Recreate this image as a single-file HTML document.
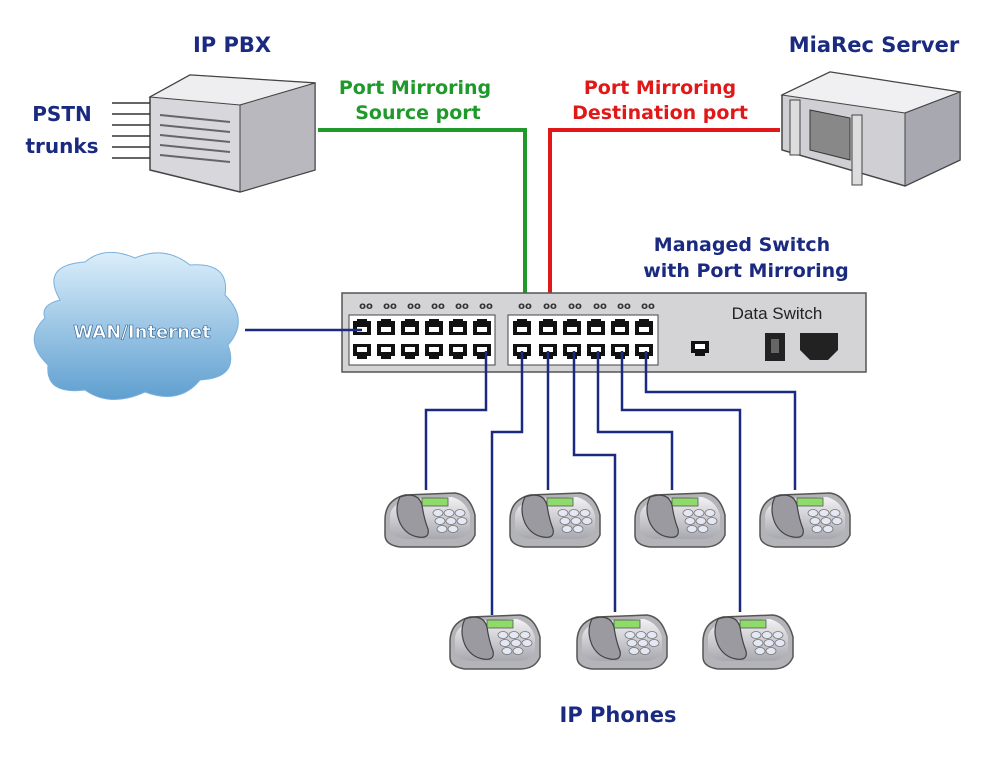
<!DOCTYPE html>
<html><head><style>
body{margin:0;background:#fff}
svg{display:block}
text{font-family:"DejaVu Sans","Liberation Sans",sans-serif;font-weight:bold}
</style></head><body>
<svg width="990" height="760" viewBox="0 0 990 760">
<defs>
<linearGradient id="cl" x1="0" y1="0" x2="0" y2="1"><stop offset="0" stop-color="#dbeefa"/><stop offset="1" stop-color="#5f9fd0"/></linearGradient>
<linearGradient id="gr" x1="0" y1="0" x2="0" y2="1"><stop offset="0" stop-color="#f2f2f4"/><stop offset="1" stop-color="#a8a8b0"/></linearGradient>
<g id="phone">
<path d="M-45,5 Q-45,-15 -25,-20 L25,-22 Q40,-20 45,0 L45,20 Q40,32 25,32 L-30,32 Q-45,30 -45,20Z" fill="#b4b4b8" stroke="#555" stroke-width="1.5"/>
<path d="M-40,0 Q-38,-12 -20,-16 L22,-18 Q36,-14 40,0 L40,14 Q36,24 22,24 L-25,24 Q-40,22 -40,12Z" fill="url(#gr)"/>
<rect x="-8" y="-17" width="26" height="8" fill="#8edb6a" stroke="#555" stroke-width="0.8"/>
<g fill="#e4e8f4" stroke="#777" stroke-width="0.8">
<ellipse cx="8" cy="-2" rx="5" ry="3.5"/><ellipse cx="19" cy="-2" rx="5" ry="3.5"/><ellipse cx="30" cy="-2" rx="5" ry="3.5"/>
<ellipse cx="10" cy="6" rx="5" ry="3.5"/><ellipse cx="21" cy="6" rx="5" ry="3.5"/><ellipse cx="32" cy="6" rx="5" ry="3.5"/>
<ellipse cx="12" cy="14" rx="5" ry="3.5"/><ellipse cx="23" cy="14" rx="5" ry="3.5"/></g>
<path d="M-30,-18 Q-12,-24 -8,-10 Q-6,4 -2,14 Q0,24 -12,22 Q-24,20 -30,8 Q-36,-6 -30,-18Z" fill="#9a9aa0" stroke="#444" stroke-width="1.2"/>
</g>
<g id="pt"><path d="M-9,-7 L-5,-7 L-5,-9 L5,-9 L5,-7 L9,-7 L9,7 L-9,7Z" fill="#111"/><rect x="-5" y="-1" width="10" height="5" fill="#fff"/></g>
<g id="pb"><path d="M-9,-7 L9,-7 L9,5 L5,5 L5,8 L-5,8 L-5,5 L-9,5Z" fill="#111"/><rect x="-5" y="-4" width="10" height="5" fill="#fff"/></g>
</defs>

<!-- PBX -->
<text x="232" y="52" font-size="21" fill="#1a2a80" text-anchor="middle">IP PBX</text>
<path d="M150,97 L190,75 L315,83 L315,170 L240,192 L150,170Z" fill="#d8d8dc" stroke="#444" stroke-width="1.5"/>
<path d="M150,97 L190,75 L315,83 L240,105Z" fill="#eeeef0" stroke="#444"/>
<path d="M240,105 L315,83 L315,170 L240,192Z" fill="#b8b8be" stroke="#444"/>
<g stroke="#666" stroke-width="2"><line x1="160" y1="115" x2="230" y2="122"/><line x1="160" y1="125" x2="230" y2="132"/><line x1="160" y1="135" x2="230" y2="142"/><line x1="160" y1="145" x2="230" y2="152"/><line x1="160" y1="155" x2="230" y2="162"/></g>
<g stroke="#333" stroke-width="1.5"><line x1="112" y1="103" x2="150" y2="103"/><line x1="112" y1="114" x2="150" y2="114"/><line x1="112" y1="125" x2="150" y2="125"/><line x1="112" y1="136" x2="150" y2="136"/><line x1="112" y1="147" x2="150" y2="147"/><line x1="112" y1="158" x2="150" y2="158"/></g>
<text x="62" y="121" font-size="20" fill="#1a2a80" text-anchor="middle">PSTN</text>
<text x="62" y="153" font-size="20" fill="#1a2a80" text-anchor="middle">trunks</text>

<!-- Server -->
<text x="874" y="52" font-size="21" fill="#1a2a80" text-anchor="middle">MiaRec Server</text>
<path d="M782,95 L830,72 L960,92 L960,160 L905,186 L782,150Z" fill="#cfcfd4" stroke="#444" stroke-width="1.5"/>
<path d="M782,95 L830,72 L960,92 L905,113Z" fill="#f0f0f2" stroke="#444"/>
<path d="M905,113 L960,92 L960,160 L905,186Z" fill="#a8a8b0" stroke="#444"/>
<path d="M810,110 L850,118 L850,160 L810,150Z" fill="#888" stroke="#333"/>
<rect x="790" y="100" width="10" height="55" fill="#ddd" stroke="#444"/>
<rect x="852" y="115" width="10" height="70" fill="#ddd" stroke="#444"/>

<!-- Labels -->
<text x="415" y="94" font-size="19" fill="#1f9a2a" text-anchor="middle">Port Mirroring</text>
<text x="418" y="119" font-size="19" fill="#1f9a2a" text-anchor="middle">Source port</text>
<text x="660" y="94" font-size="19" fill="#e01818" text-anchor="middle">Port Mirroring</text>
<text x="660" y="119" font-size="19" fill="#e01818" text-anchor="middle">Destination port</text>
<text x="742" y="251" font-size="19" fill="#1a2a80" text-anchor="middle">Managed Switch</text>
<text x="746" y="277" font-size="19" fill="#1a2a80" text-anchor="middle">with Port Mirroring</text>

<!-- mirror lines -->
<polyline points="318,130 525,130 525,325" fill="none" stroke="#1f9a2a" stroke-width="4"/>
<polyline points="780,130 550,130 550,325" fill="none" stroke="#e01818" stroke-width="4"/>

<!-- cloud -->
<path d="M60,300 Q40,265 85,262 Q105,245 135,258 Q165,245 190,265 Q230,262 225,295 Q250,320 228,345 Q240,378 200,380 Q180,405 145,392 Q110,408 85,390 Q45,395 48,365 Q22,340 45,318 Q40,305 60,300Z" fill="url(#cl)" stroke="#7ab0dc"/>
<text x="142" y="338" font-size="18" fill="#fff" text-anchor="middle" stroke="#2a5c90" stroke-width="0.6">WAN/Internet</text>

<!-- switch -->
<rect x="342" y="293" width="524" height="79" fill="#d4d4d6" stroke="#555" stroke-width="1.5"/>
<rect x="349" y="315" width="146" height="50" fill="#fff" stroke="#444"/>
<rect x="508" y="315" width="150" height="50" fill="#fff" stroke="#444"/>
<g font-size="10" fill="#333" text-anchor="middle" font-weight="bold">
<text x="366" y="309" style="font-family:'DejaVu Sans'">oo</text><text x="390" y="309">oo</text><text x="414" y="309">oo</text><text x="438" y="309">oo</text><text x="462" y="309">oo</text><text x="486" y="309">oo</text>
<text x="525" y="309">oo</text><text x="550" y="309">oo</text><text x="575" y="309">oo</text><text x="600" y="309">oo</text><text x="624" y="309">oo</text><text x="648" y="309">oo</text>
</g>
<g>
<use href="#pt" x="362" y="328"/><use href="#pt" x="386" y="328"/><use href="#pt" x="410" y="328"/><use href="#pt" x="434" y="328"/><use href="#pt" x="458" y="328"/><use href="#pt" x="482" y="328"/>
<use href="#pb" x="362" y="351"/><use href="#pb" x="386" y="351"/><use href="#pb" x="410" y="351"/><use href="#pb" x="434" y="351"/><use href="#pb" x="458" y="351"/><use href="#pb" x="482" y="351"/>
<use href="#pt" x="522" y="328"/><use href="#pt" x="548" y="328"/><use href="#pt" x="572" y="328"/><use href="#pt" x="596" y="328"/><use href="#pt" x="620" y="328"/><use href="#pt" x="644" y="328"/>
<use href="#pb" x="522" y="351"/><use href="#pb" x="548" y="351"/><use href="#pb" x="572" y="351"/><use href="#pb" x="596" y="351"/><use href="#pb" x="620" y="351"/><use href="#pb" x="644" y="351"/>
<use href="#pb" x="700" y="348"/>
</g>
<text x="777" y="319" font-size="17" fill="#222" text-anchor="middle" style="font-family:'Liberation Sans';font-weight:normal">Data Switch</text>
<rect x="765" y="333" width="20" height="28" fill="#222"/><rect x="771" y="339" width="8" height="14" fill="#666"/>
<path d="M800,333 L838,333 L838,350 L828,360 L810,360 L800,350Z" fill="#222"/>

<!-- blue lines -->
<g fill="none" stroke="#1a2a80" stroke-width="2.5">
<line x1="245" y1="330" x2="362" y2="330"/>
<polyline points="486,351 486,410 426,410 426,490"/>
<polyline points="522,351 522,432 492,432 492,615"/>
<polyline points="548,351 548,490"/>
<polyline points="574,351 574,455 615,455 615,612"/>
<polyline points="598,351 598,432 672,432 672,490"/>
<polyline points="622,351 622,410 740,410 740,612"/>
<polyline points="646,351 646,392 795,392 795,490"/>
</g>

<!-- phones -->
<use href="#phone" x="430" y="515"/>
<use href="#phone" x="555" y="515"/>
<use href="#phone" x="680" y="515"/>
<use href="#phone" x="805" y="515"/>
<use href="#phone" x="495" y="637"/>
<use href="#phone" x="622" y="637"/>
<use href="#phone" x="748" y="637"/>
<text x="618" y="722" font-size="21" fill="#1a2a80" text-anchor="middle">IP Phones</text>
</svg>
</body></html>
